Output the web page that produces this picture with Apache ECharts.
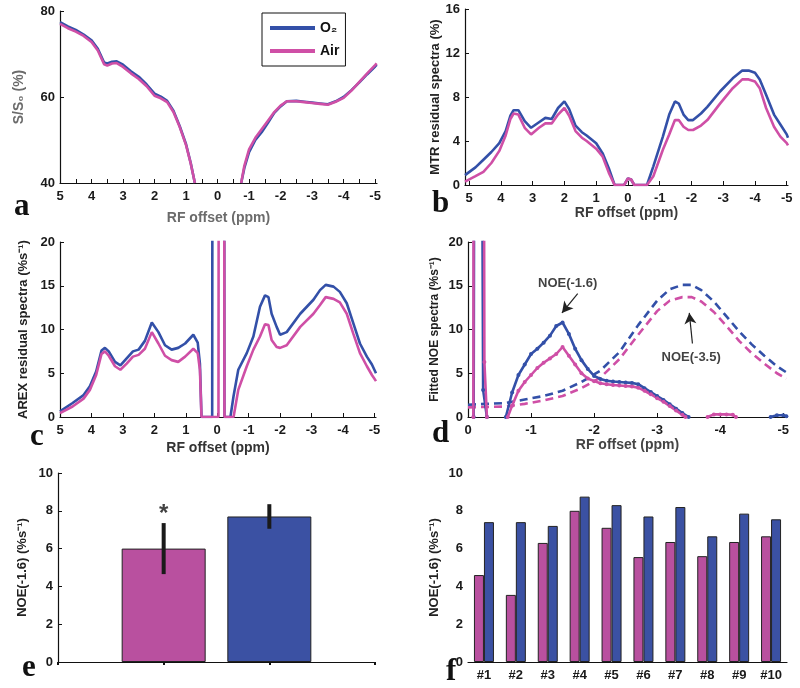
<!DOCTYPE html>
<html>
<head>
<meta charset="utf-8">
<script src="https://cdn.jsdelivr.net/npm/echarts@6/dist/echarts.min.js"></script>
<style>
  html, body { margin: 0; padding: 0; background: #fff; }
  #main { width: 800px; height: 688px; }
</style>
</head>
<body>
<div id="main"></div>
<script>
// ---- panel a: Z-spectra S/S0 (%) ----
const aX   = [5, 4.75, 4.5, 4.25, 4, 3.8, 3.6, 3.5, 3.35, 3.2, 3, 2.75, 2.5, 2.25, 2, 1.8, 1.6, 1.4, 1.2, 1.0, 0.85, 0.72, null,
              -0.75, -0.85, -1, -1.2, -1.4, -1.6, -1.8, -2, -2.2, -2.5, -2.75, -3, -3.25, -3.5, -3.75, -4, -4.25, -4.5, -4.75, -5, -5.05];
const aO2  = [77.4, 76.4, 75.6, 74.5, 73.2, 71.2, 68.0, 67.8, 68.2, 68.3, 67.5, 66.0, 64.7, 62.9, 60.8, 60.1, 59.1, 56.8, 53.2, 49.0, 44.6, 40, null,
              40, 43.5, 47.2, 50.0, 51.8, 54.0, 56.3, 57.8, 59.0, 59.1, 58.9, 58.7, 58.5, 58.3, 59.0, 60.0, 61.6, 63.4, 65.3, 67.1, 67.5];
const aAir = [77.0, 76.0, 75.2, 74.2, 72.8, 70.8, 67.6, 67.3, 67.8, 67.9, 67.0, 65.5, 64.2, 62.5, 60.3, 59.7, 58.8, 56.5, 53.0, 48.8, 44.5, 40, null,
              40, 44.0, 47.8, 50.5, 52.5, 54.5, 56.5, 58.0, 59.0, 59.0, 58.8, 58.6, 58.4, 58.2, 58.9, 59.8, 61.5, 63.5, 65.5, 67.4, 67.8];

// ---- panel b: MTR residual spectra (%) ----
const bX   = [5.13, 4.8, 4.55, 4.3, 4.05, 3.85, 3.7, 3.6, 3.45, 3.25, 3.05, 2.8, 2.6, 2.4, 2.2, 2.0, 1.85, 1.65, 1.45, 1.3, 1.0, 0.8, 0.6, 0.42,
              0.12, 0.0, -0.1, -0.2, -0.6, -0.8, -1.1, -1.3, -1.48, -1.6, -1.75, -1.9, -2.05, -2.3, -2.5, -2.9, -3.3, -3.6, -3.8, -4.0, -4.15, -4.35, -4.6, -4.8, -5.0, -5.04];
const bO2  = [0.9, 1.6, 2.3, 3.0, 3.8, 4.9, 6.3, 6.8, 6.8, 5.8, 5.2, 5.7, 6.1, 6.0, 7.0, 7.6, 6.9, 5.4, 4.8, 4.5, 3.8, 2.9, 1.5, 0,
              0, 0.6, 0.5, 0, 0, 1.7, 4.4, 6.4, 7.6, 7.4, 6.4, 5.9, 5.9, 6.5, 7.1, 8.5, 9.7, 10.4, 10.4, 10.2, 9.6, 8.2, 6.4, 5.5, 4.6, 4.3];
const bAir = [0.3, 0.8, 1.2, 2.0, 3.1, 4.5, 6.0, 6.5, 6.4, 5.2, 4.6, 5.2, 5.6, 5.6, 6.4, 7.0, 6.3, 4.9, 4.3, 4.0, 3.3, 2.6, 1.1, 0,
              0, 0.6, 0.5, 0, 0, 0.8, 3.2, 4.6, 5.9, 5.9, 5.3, 5.0, 5.0, 5.4, 5.9, 7.4, 8.8, 9.6, 9.6, 9.4, 8.8, 7.0, 5.3, 4.4, 3.8, 3.6];

// ---- panel c: AREX residual spectra (%s-1), 40 = off scale ----
const cX   = [5, 4.6, 4.25, 4.05, 3.85, 3.68, 3.57, 3.45, 3.25, 3.08, 2.88, 2.68, 2.5, 2.3, 2.08, 1.87, 1.66, 1.45, 1.24, 1.02, 0.76, 0.62, 0.55, 0.5,
              0.16, 0.15, -0.04, -0.05, -0.22, -0.23, -0.42, -0.52, -0.67, -0.94, -1.15, -1.36, -1.52, -1.63, -1.73, -1.89, -2.0, -2.21,
              -2.64, -3.06, -3.27, -3.45, -3.7, -3.9, -4.12, -4.33, -4.54, -4.76, -4.92, -5.05];
const cO2  = [0.65, 1.6, 2.5, 3.5, 5.2, 7.6, 7.9, 7.5, 6.3, 5.9, 6.7, 7.5, 7.7, 8.7, 10.8, 9.7, 8.2, 7.7, 7.9, 8.4, 9.4, 8.5, 6.1, 0,
              0, 40, 40, 40, 40, 0, 0, 2.4, 5.4, 7.3, 9.2, 12.6, 13.9, 13.7, 11.8, 10.3, 9.4, 9.7,
              11.8, 13.4, 14.5, 15.1, 14.9, 14.3, 13.0, 10.7, 8.4, 6.9, 6.0, 5.0];
const cAir = [0.45, 1.2, 2.1, 3.1, 4.8, 7.2, 7.5, 7.0, 5.8, 5.4, 6.1, 6.9, 7.1, 7.8, 9.7, 8.4, 7.0, 6.5, 6.3, 6.9, 7.8, 7.3, 5.4, 0,
              0, 0, 0, 40, 40, 0, 0, 0, 3.1, 5.8, 7.7, 9.2, 10.6, 10.5, 8.8, 8.0, 7.9, 8.2,
              10.3, 11.8, 12.8, 13.7, 13.5, 13.1, 11.8, 9.5, 7.3, 5.8, 4.8, 4.1];

// ---- panel d: fitted NOE spectra ----
const dO2X  = [-0.09, -0.1, -0.22, -0.24, -0.3, null,
               -0.6, -0.7, -0.8, -0.9, -1.0, -1.1, -1.2, -1.3, -1.4, -1.5, -1.6, -1.7, -1.8, -1.9, -2.0, -2.1, -2.2, -2.3, -2.4,
               -2.5, -2.6, -2.7, -2.8, -2.9, -3.0, -3.1, -3.2, -3.3, -3.4, -3.5, null, -4.8, -4.9, -5.0, -5.05];
const dO2Y  = [0, 40, 40, 3.1, 0, null,
               0, 2.8, 4.8, 6.0, 7.2, 7.8, 8.5, 9.3, 10.4, 10.8, 9.5, 7.8, 6.5, 5.5, 4.7, 4.35, 4.15, 4.05, 4.0,
               3.95, 3.9, 3.75, 3.3, 2.85, 2.4, 1.95, 1.45, 0.95, 0.45, 0, null, 0, 0.2, 0.2, 0.1];
const dAirX = [-0.085, -0.09, -0.25, -0.26, -0.3, null,
               -0.63, -0.7, -0.8, -0.9, -1.0, -1.1, -1.2, -1.3, -1.4, -1.5, -1.6, -1.7, -1.8, -1.9, -2.0, -2.1, -2.2, -2.3, -2.4,
               -2.5, -2.6, -2.7, -2.8, -2.9, -3.0, -3.1, -3.2, -3.3, -3.4, -3.45, null, -3.8, -3.9, -4.0, -4.1, -4.2, -4.25];
const dAirY = [0, 40, 40, 6.3, 0, null,
               0, 1.3, 3.0, 4.0, 4.8, 5.6, 6.2, 6.7, 7.2, 8.0, 7.0, 6.0, 5.0, 4.4, 4.1, 3.85, 3.75, 3.65, 3.6,
               3.55, 3.5, 3.35, 3.0, 2.6, 2.15, 1.75, 1.25, 0.75, 0.25, 0, null, 0, 0.3, 0.3, 0.3, 0.25, 0];
const dFitX   = [0, -0.3, -0.6, -0.9, -1.2, -1.5, -1.8, -2.1, -2.4, -2.7, -3.0, -3.2, -3.4, -3.55, -3.7, -3.9, -4.1, -4.3, -4.5, -4.7, -4.9, -5.05];
const dFitO2  = [1.4, 1.5, 1.6, 2.0, 2.4, 3.0, 4.0, 5.3, 7.4, 10.5, 13.3, 14.6, 15.1, 15.1, 14.5, 13.2, 11.5, 9.8, 8.3, 7.0, 5.8, 5.1];
const dFitAir = [1.1, 1.15, 1.2, 1.5, 1.9, 2.4, 3.3, 4.5, 6.6, 9.4, 12.1, 13.3, 13.7, 13.7, 13.2, 12.0, 10.4, 8.7, 7.3, 6.1, 5.0, 4.4];
const dNotes  = ['NOE(-1.6)', 'NOE(-3.5)'];

// ---- panel e: group mean NOE(-1.6) ----
const eGroups = ['Air', 'O2'];
const eMean   = [6.0, 7.7];
const eErr    = [1.35, 0.65];

// ---- panel f: per animal NOE(-1.6) ----
const fCats = ['#1', '#2', '#3', '#4', '#5', '#6', '#7', '#8', '#9', '#10'];
const fAir  = [4.6, 3.55, 6.3, 8.0, 7.1, 5.55, 6.35, 5.6, 6.35, 6.65];
const fO2   = [7.4, 7.4, 7.2, 8.75, 8.3, 7.7, 8.2, 6.65, 7.85, 7.55];

const BLUE = '#3350a8';
const PINK = '#cf4fa6';
const BAR_BLUE = '#3b51a3';
const BAR_PINK = '#b9509f';
const FONT = 'Arial, "Liberation Sans", sans-serif';

function pairs(xs, ys) {
  return xs.map((x, i) => (x === null || ys[i] === null ? ['-', '-'] : [x, ys[i]]));
}
function range(a, b, step) {
  const out = [];
  for (let v = a; v <= b + 1e-9; v += step) out.push(Math.round(v * 10) / 10);
  return out;
}

const axisLine = { onZero: false, lineStyle: { color: '#111', width: 1.2 } };
const tickLabel = { color: '#1a1a1a', fontFamily: FONT, fontWeight: 'bold', fontSize: 13 };

function specX(grid, min, max, ticks, labels, gap, nameColor) {
  return {
    gridIndex: grid, type: 'value', inverse: true, min: min, max: max,
    axisLine: axisLine,
    axisTick: { inside: true, length: 4, customValues: ticks, lineStyle: { color: '#111' } },
    axisLabel: Object.assign({ customValues: labels, margin: 7 }, tickLabel),
    splitLine: { show: false },
    name: 'RF offset (ppm)', nameLocation: 'middle', nameGap: gap,
    nameTextStyle: { color: nameColor, fontFamily: FONT, fontWeight: 'bold', fontSize: 14 }
  };
}
function valY(grid, min, max, interval, name, gap, nameColor, nameSize) {
  return {
    gridIndex: grid, type: 'value', min: min, max: max, interval: interval,
    axisLine: axisLine,
    axisTick: { inside: true, length: 4, lineStyle: { color: '#111' } },
    axisLabel: Object.assign({ margin: 5 }, tickLabel),
    splitLine: { show: false },
    name: name, nameLocation: 'middle', nameGap: gap,
    nameTextStyle: { color: nameColor, fontFamily: FONT, fontWeight: 'bold', fontSize: nameSize }
  };
}
function spec(name, grid, data, color, extra) {
  return Object.assign({
    name: name, type: 'line', xAxisIndex: grid, yAxisIndex: grid, data: data,
    showSymbol: false, smooth: false, clip: true, connectNulls: false,
    lineStyle: { color: color, width: 2.6 }, itemStyle: { color: color }, z: 3
  }, extra || {});
}

const intTicks = range(-5, 5, 1);
const halfTicks = range(-5, 5, 0.5);

const chart = echarts.init(document.getElementById('main'));
const letter = (ch, x, y) => ({
  type: 'text', left: x, top: y,
  style: { text: ch, fill: '#111', font: 'bold 31px "Liberation Serif", "DejaVu Serif", serif' }
});

const option = {
  animation: false,
  backgroundColor: '#fff',
  grid: [
    { left: 60, top: 11, width: 317, height: 172 },
    { left: 465, top: 9, width: 323, height: 176 },
    { left: 60, top: 242, width: 316, height: 175 },
    { left: 468, top: 242, width: 319, height: 175 },
    { left: 58, top: 473, width: 317, height: 189 },
    { left: 468, top: 473, width: 319, height: 189 }
  ],
  legend: {
    data: ['O₂', 'Air'], orient: 'vertical', left: 262, top: 13,
    icon: 'rect', itemWidth: 45, itemHeight: 4, itemGap: 9,
    padding: [8, 6, 8, 8], borderColor: '#111', borderWidth: 1, backgroundColor: '#fff',
    textStyle: { color: '#111', fontFamily: FONT, fontWeight: 'bold', fontSize: 14 }
  },
  xAxis: [
    specX(0, -5.06, 5, halfTicks, intTicks, 28, '#6b6b6b'),
    specX(1, -5.04, 5.13, intTicks, intTicks, 21, '#3a3a3a'),
    specX(2, -5.05, 5, intTicks, intTicks, 24, '#333'),
    specX(3, -5.06, 0, range(-5, 0, 1), range(-5, 0, 1), 19, '#444'),
    {
      gridIndex: 4, type: 'value', min: 0, max: 3, interval: 1,
      axisLine: axisLine, axisTick: { inside: false, length: 3, lineStyle: { color: '#111', width: 2 } },
      axisLabel: { show: false }, splitLine: { show: false }
    },
    {
      gridIndex: 5, type: 'category', data: fCats,
      axisLine: axisLine, axisTick: { inside: true, length: 4, lineStyle: { color: '#111' } },
      axisLabel: Object.assign({ margin: 7, interval: 0 }, tickLabel), splitLine: { show: false }
    }
  ],
  yAxis: [
    valY(0, 40, 80, 20, 'S/S₀ (%)', 34, '#6b6b6b', 14),
    valY(1, 0, 16, 4, 'MTR residual spectra (%)', 17, '#222', 13),
    valY(2, 0, 20, 5, 'AREX residual spectra (%s⁻¹)', 30, '#222', 13),
    valY(3, 0, 20, 5, 'Fitted NOE spectra (%s⁻¹)', 27, '#222', 12),
    valY(4, 0, 10, 2, 'NOE(-1.6) (%s⁻¹)', 29, '#222', 13),
    valY(5, 0, 10, 2, 'NOE(-1.6) (%s⁻¹)', 27, '#222', 13)
  ],
  graphic: [
    letter('a', 14, 191), letter('b', 432, 188),
    letter('c', 30, 421), letter('d', 432, 418),
    letter('e', 22, 652), letter('f', 446, 656)
  ],
  series: [
    spec('O₂', 0, pairs(aX, aO2), BLUE),
    spec('Air', 0, pairs(aX, aAir), PINK),
    spec('O₂ b', 1, pairs(bX, bO2), BLUE),
    spec('Air b', 1, pairs(bX, bAir), PINK),
    spec('O₂ c', 2, pairs(cX, cO2), BLUE),
    spec('Air c', 2, pairs(cX, cAir), PINK),
    spec('O₂ fit', 3, pairs(dFitX, dFitO2), BLUE, { lineStyle: { color: BLUE, width: 2.6, type: [8, 5] }, z: 2 }),
    spec('Air fit', 3, pairs(dFitX, dFitAir), PINK, { lineStyle: { color: PINK, width: 2.6, type: [8, 5] }, z: 2 }),
    spec('O₂ d', 3, pairs(dO2X, dO2Y), BLUE, { showSymbol: true, symbol: 'circle', symbolSize: 4 }),
    spec('Air d', 3, pairs(dAirX, dAirY), PINK, { showSymbol: true, symbol: 'circle', symbolSize: 4 }),
    {
      name: 'notes', type: 'scatter', xAxisIndex: 3, yAxisIndex: 3,
      data: [[-1.58, 15.3], [-3.54, 6.8]], symbolSize: 1, itemStyle: { color: 'rgba(0,0,0,0)' },
      label: {
        show: true, position: 'inside', color: '#111', fontFamily: FONT, fontWeight: 'bold', fontSize: 13,
        formatter: (p) => dNotes[p.dataIndex]
      },
      markLine: {
        silent: true, symbol: ['none', 'arrow'], symbolSize: [9, 11], label: { show: false },
        lineStyle: { color: '#222', width: 1.2, type: 'solid' },
        data: [
          [{ coord: [-1.74, 14.1] }, { coord: [-1.49, 11.9] }],
          [{ coord: [-3.56, 8.4] }, { coord: [-3.51, 11.9] }]
        ]
      },
      z: 5
    },
    {
      name: 'mean', type: 'bar', xAxisIndex: 4, yAxisIndex: 4, barWidth: 84,
      data: eMean.map((v, i) => ({ value: [i + 1, v], itemStyle: { color: i === 0 ? BAR_PINK : BAR_BLUE } })),
      itemStyle: { borderColor: '#222', borderWidth: 1 }
    },
    {
      name: 'sd', type: 'custom', xAxisIndex: 4, yAxisIndex: 4,
      data: eMean.map((v, i) => [i + 1, v - eErr[i], v + eErr[i]]),
      encode: { x: 0, y: [1, 2] },
      renderItem: (params, api) => {
        const p1 = api.coord([api.value(0), api.value(1)]);
        const p2 = api.coord([api.value(0), api.value(2)]);
        return { type: 'line', shape: { x1: p1[0], y1: p1[1], x2: p2[0], y2: p2[1] }, style: { stroke: '#1a1a1a', lineWidth: 4 } };
      },
      z: 4
    },
    {
      name: 'star', type: 'scatter', xAxisIndex: 4, yAxisIndex: 4,
      data: [[1, eMean[0] + eErr[0] + 0.75]], symbolSize: 1, itemStyle: { color: 'rgba(0,0,0,0)' },
      label: { show: true, position: 'inside', formatter: '*', color: '#111', fontFamily: FONT, fontWeight: 'bold', fontSize: 24, offset: [0, 5] }
    },
    {
      name: 'Air f', type: 'bar', xAxisIndex: 5, yAxisIndex: 5, data: fAir, barWidth: 10, barGap: '0%',
      itemStyle: { color: BAR_PINK, borderColor: '#222', borderWidth: 1 }
    },
    {
      name: 'O₂ f', type: 'bar', xAxisIndex: 5, yAxisIndex: 5, data: fO2, barWidth: 10, barGap: '0%',
      itemStyle: { color: BAR_BLUE, borderColor: '#222', borderWidth: 1 }
    }
  ]
};

option && chart.setOption(option);
</script>
</body>
</html>
